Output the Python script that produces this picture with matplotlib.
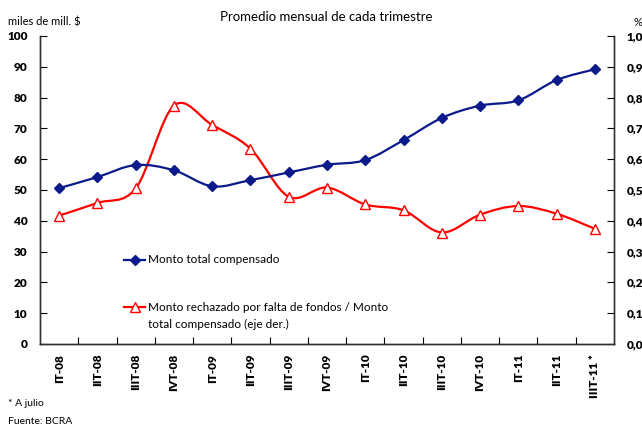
import matplotlib.pyplot as plt
import numpy as np
from matplotlib.path import Path
from matplotlib.patches import PathPatch
from matplotlib.lines import Line2D
from matplotlib.ticker import FuncFormatter

plt.rcParams['font.family'] = ['Lato', 'DejaVu Sans']

quarters = ['IT-08', 'IIT-08', 'IIIT-08', 'IVT-08', 'IT-09', 'IIT-09', 'IIIT-09', 'IVT-09',
            'IT-10', 'IIT-10', 'IIIT-10', 'IVT-10', 'IT-11', 'IIT-11', 'IIIT-11 *']
monto_total = [50.6, 54.2, 58.1, 56.4, 51.2, 53.2, 55.7, 58.2,
               59.7, 66.2, 73.4, 77.4, 79.1, 85.7, 89.2]
ratio_rechazo = [0.417, 0.458, 0.505, 0.774, 0.711, 0.634, 0.478, 0.508,
                 0.453, 0.434, 0.362, 0.420, 0.448, 0.423, 0.374]

BLUE = '#0b1a8a'
RED = '#ff0000'


def smooth_path(xs, ys):
    # excel-style smoothed line: catmull-rom segments as cubic beziers
    pts = np.column_stack([xs, ys]).astype(float)
    verts = [pts[0]]
    codes = [Path.MOVETO]
    n = len(pts)
    for i in range(n - 1):
        p0 = pts[i - 1] if i > 0 else pts[i]
        p1, p2 = pts[i], pts[i + 1]
        p3 = pts[i + 2] if i + 2 < n else pts[i + 1]
        verts += [p1 + (p2 - p0) / 6, p2 - (p3 - p1) / 6, p2]
        codes += [Path.CURVE4] * 3
    return Path(verts, codes)


fig = plt.figure(figsize=(6.42, 4.26), dpi=100)
ax = fig.add_axes([40 / 642, 82 / 426, 574 / 642, 308 / 426])
ax2 = ax.twinx()

x = np.arange(len(quarters))

ax2.add_patch(PathPatch(smooth_path(x, ratio_rechazo), facecolor='none',
                        edgecolor=RED, lw=1.6, zorder=2))
ax2.plot(x, ratio_rechazo, ls='none', marker='^', ms=6.5, mfc='white',
         mec=RED, mew=1.0, zorder=3)
ax2.add_patch(PathPatch(smooth_path(x, monto_total), facecolor='none',
                        edgecolor=BLUE, lw=1.6, zorder=2,
                        transform=ax.transData))
ax2.plot(x, [v / 100 for v in monto_total], ls='none', marker='D', ms=5,
         color=BLUE, zorder=3)

ax.set_xlim(-0.5, len(quarters) - 0.5)
ax.set_ylim(0, 100)
ax2.set_ylim(0, 1.0)

ax.set_yticks(np.arange(0, 101, 10))
ax2.set_yticks(np.arange(0, 1.01, 0.1))
ax2.yaxis.set_major_formatter(FuncFormatter(lambda v, p: f'{v:.1f}'.replace('.', ',')))

ax.set_xticks(np.arange(0.5, len(quarters) - 1, 1))
ax.set_xticklabels([])
ax.set_xticks(x, minor=True)
ax.set_xticklabels(quarters, minor=True, rotation=90, fontweight='heavy', fontsize=8.5)
ax.tick_params(axis='x', which='major', direction='in', length=5, width=0.8)
ax.tick_params(axis='x', which='minor', length=0, pad=7)
ax.tick_params(axis='y', direction='in', length=5, width=0.8, pad=9, labelsize=8.5)
ax2.tick_params(axis='y', direction='in', length=5, width=0.8, pad=9, labelsize=8.5)
for lab in ax.get_yticklabels() + ax2.get_yticklabels():
    lab.set_fontweight('heavy')

for a in (ax, ax2):
    a.spines['top'].set_visible(False)
    for s in ('left', 'right', 'bottom'):
        a.spines[s].set_linewidth(1.0)
        a.spines[s].set_color('#333333')

# legend drawn inside the plot
ax.add_line(Line2D([0.147, 0.183], [0.273, 0.273], transform=ax.transAxes,
                   color=BLUE, lw=1.6))
ax.plot([0.165], [0.273], transform=ax.transAxes, marker='D', ms=5, color=BLUE)
ax.text(0.188, 0.273, 'Monto total compensado', transform=ax.transAxes,
        fontsize=8.5, va='center')
ax.add_line(Line2D([0.147, 0.183], [0.12, 0.12], transform=ax.transAxes,
                   color=RED, lw=1.6))
ax.plot([0.165], [0.12], transform=ax.transAxes, marker='^', ms=6.5,
        mfc='white', mec=RED, mew=1.0)
ax.text(0.188, 0.12, 'Monto rechazado por falta de fondos / Monto',
        transform=ax.transAxes, fontsize=8.5, va='center')
ax.text(0.188, 0.065, 'total compensado (eje der.)',
        transform=ax.transAxes, fontsize=8.5, va='center')

fig.text(326 / 642, 1 - 17 / 426, 'Promedio mensual de cada trimestre',
         ha='center', va='center', fontsize=9.5)
fig.text(8 / 642, 1 - 22 / 426, 'miles de mill. $', ha='left', va='center', fontsize=8)
fig.text(634 / 642, 1 - 22 / 426, '%', ha='left', va='center', fontsize=8)
fig.text(8 / 642, 1 - 403 / 426, '* A julio', ha='left', va='center', fontsize=7.5)
fig.text(8 / 642, 1 - 421 / 426, 'Fuente: BCRA', ha='left', va='center', fontsize=7.5)

fig.savefig('out.png', dpi=100)
plt.close(fig)
